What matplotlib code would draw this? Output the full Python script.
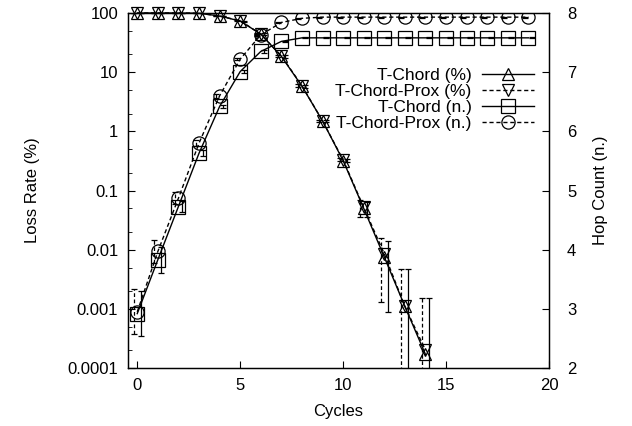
import matplotlib
matplotlib.use("Agg")
import matplotlib.pyplot as plt
import numpy as np
from matplotlib.ticker import LogLocator, FixedLocator, NullFormatter, FixedFormatter

plt.rcParams['font.family'] = ['Liberation Sans', 'DejaVu Sans']

# loss rate (%), cycles 0..14
loss_cycles = np.arange(15)
loss_tchord = [100, 100, 100, 99, 89, 73, 44, 18.5, 5.8, 1.5, 0.32, 0.05, 0.0075, 0.0011, 0.00017]
loss_tchord_err = [0, 0, 0, 0.5, 1, 1.5, 2, 1, 0.3, 0.08, 0.02, 0.014, 0.0066, 0.0037, 0.00135]
loss_prox = [100, 100, 100, 99, 89, 74, 44, 18.8, 5.9, 1.5, 0.33, 0.052, 0.0085, 0.0011, 0.0002]
loss_prox_err = [0, 0, 0, 0.5, 1, 1.5, 2, 1, 0.3, 0.08, 0.02, 0.016, 0.0072, 0.0037, 0.00135]

# hop count (n.), cycles 0..19
hop_cycles = np.arange(20)
hop_tchord = [2.92, 3.83, 4.73, 5.63, 6.42, 7.01, 7.35, 7.52, 7.58, 7.58,
              7.58, 7.58, 7.58, 7.58, 7.58, 7.58, 7.58, 7.58, 7.58, 7.58]
hop_tchord_err = [0.38, 0.22, 0.1, 0.05, 0.03, 0.02, 0.02, 0.01, 0.01, 0.01,
                  0.01, 0.01, 0.01, 0.01, 0.01, 0.01, 0.01, 0.01, 0.01, 0.01]
hop_prox = [2.95, 3.97, 4.87, 5.8, 6.6, 7.22, 7.63, 7.84, 7.91, 7.93,
            7.93, 7.93, 7.93, 7.93, 7.93, 7.93, 7.93, 7.93, 7.93, 7.93]
hop_prox_err = [0.38, 0.2, 0.1, 0.05, 0.03, 0.02, 0.02, 0.01, 0.01, 0.01,
                0.01, 0.01, 0.01, 0.01, 0.01, 0.01, 0.01, 0.01, 0.01, 0.01]

dash = (0, (3, 2))
off = 0.17

fig = plt.figure(figsize=(6.32, 4.26), dpi=100)
ax = fig.add_axes([0.2025, 0.136, 0.6662, 0.8335])
ax2 = ax.twinx()

# loss rate on the left log axis
ax.errorbar(loss_cycles + off, loss_tchord, yerr=loss_tchord_err, fmt='none',
            ecolor='black', elinewidth=0.9, capsize=2.5, capthick=0.9)
eb = ax.errorbar(loss_cycles - off, loss_prox, yerr=loss_prox_err, fmt='none',
                 ecolor='black', elinewidth=0.9, capsize=2.5, capthick=0.9)
eb[2][0].set_linestyle(dash)
l1, = ax.plot(loss_cycles, loss_tchord, color='black', lw=1, marker='^', ms=8,
              mfc='none', mec='black', mew=0.9, label='T-Chord (%)', clip_on=False)
l2, = ax.plot(loss_cycles, loss_prox, color='black', lw=1, ls=dash, marker='v', ms=8,
              mfc='none', mec='black', mew=0.9, label='T-Chord-Prox (%)', clip_on=False)

# hop count on the right axis
ax2.errorbar(hop_cycles + off, hop_tchord, yerr=hop_tchord_err, fmt='none',
             ecolor='black', elinewidth=0.9, capsize=2.5, capthick=0.9)
eb2 = ax2.errorbar(hop_cycles - off, hop_prox, yerr=hop_prox_err, fmt='none',
                   ecolor='black', elinewidth=0.9, capsize=2.5, capthick=0.9)
eb2[2][0].set_linestyle(dash)
l3, = ax2.plot(hop_cycles, hop_tchord, color='black', lw=1, marker='s', ms=9.5,
               mfc='none', mec='black', mew=0.9, label='T-Chord (n.)')
l4, = ax2.plot(hop_cycles, hop_prox, color='black', lw=1, ls=dash, marker='o', ms=9.5,
               mfc='none', mec='black', mew=0.9, label='T-Chord-Prox (n.)')

ax.set_yscale('log')
ax.set_ylim(1e-4, 100)
ax.set_xlim(-0.45, 20)
ax2.set_ylim(2, 8)

ax.yaxis.set_major_locator(FixedLocator([1e-4, 1e-3, 1e-2, 1e-1, 1, 10, 100]))
ax.yaxis.set_major_formatter(FixedFormatter(['0.0001', '0.001', '0.01', '0.1', '1', '10', '100']))
ax.yaxis.set_minor_locator(LogLocator(base=10, subs=(2, 5)))
ax.yaxis.set_minor_formatter(NullFormatter())
ax.set_xticks([0, 5, 10, 15, 20])
ax2.set_yticks([2, 3, 4, 5, 6, 7, 8])

ax.tick_params(axis='both', which='major', direction='in', length=5, labelsize=12, pad=7)
ax.tick_params(axis='y', which='minor', direction='in', length=3)
ax.tick_params(axis='x', top=False)
ax2.tick_params(axis='y', direction='in', length=5, labelsize=12, pad=13)

for a in (ax, ax2):
    for s in a.spines.values():
        s.set_linewidth(0.9)

ax.set_xlabel('Cycles', fontsize=12, labelpad=8)
ax.set_ylabel('Loss Rate (%)', fontsize=12, labelpad=20)
ax2.set_ylabel('Hop Count (n.)', fontsize=12, labelpad=12)

ax2.legend(handles=[l1, l2, l3, l4], loc='upper right', bbox_to_anchor=(0.985, 0.87),
           frameon=False, markerfirst=False, fontsize=12.5, handlelength=3.0,
           labelspacing=0.05, handletextpad=0.6, borderpad=0)

fig.savefig('out.png', dpi=100)
